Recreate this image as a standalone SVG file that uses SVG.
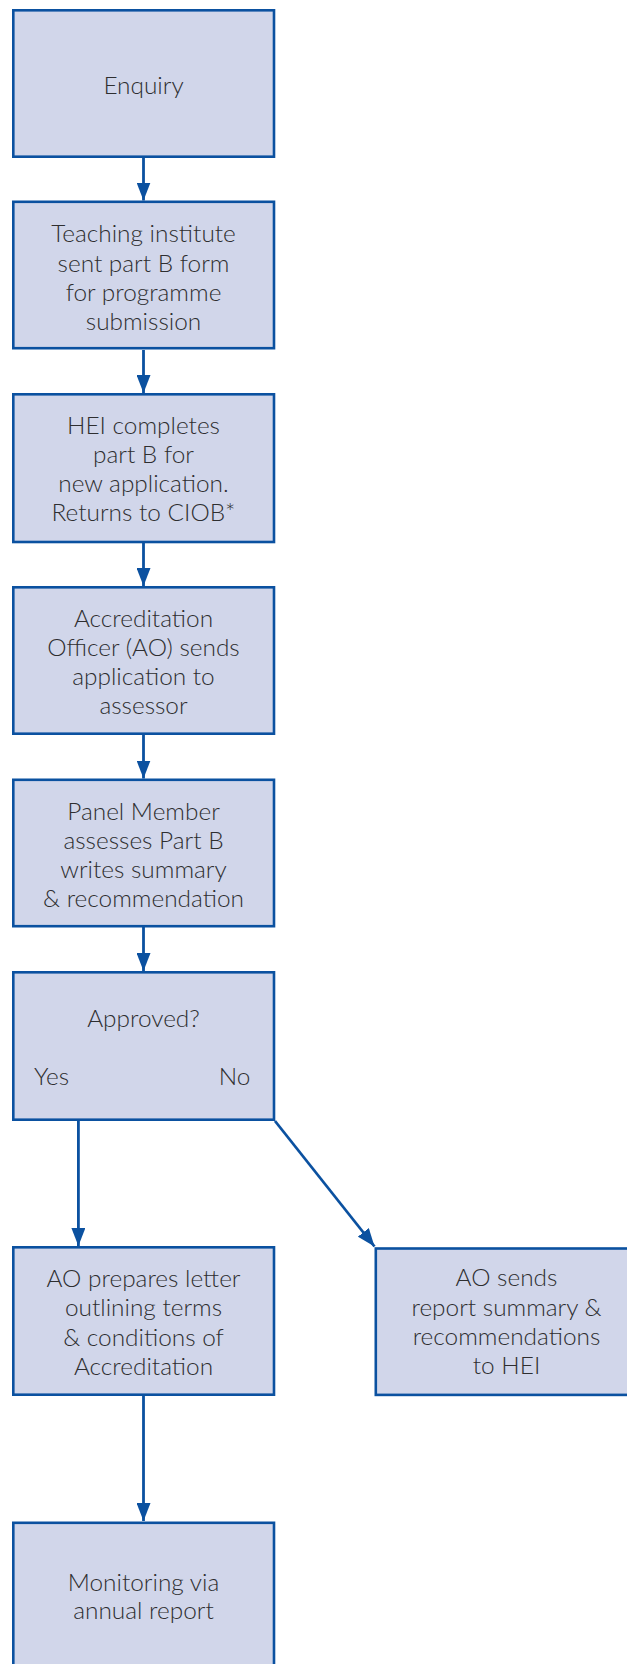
<svg xmlns="http://www.w3.org/2000/svg" width="627" height="1664" viewBox="0 0 627 1664">
<style>
.box{fill:#d1d6ea;stroke:#0b51a0;stroke-width:2.6}
.t{font-family:Lato,"Open Sans","Liberation Sans",sans-serif;font-weight:300;font-size:24.4px;fill:#2e2e30;text-anchor:middle}
.c{stroke:#0b51a0;stroke-width:2.8;fill:none;marker-end:url(#ah)}
</style>
<defs>
<marker id="ah" viewBox="0 0 18 14" refX="18" refY="7" markerWidth="18" markerHeight="14" markerUnits="userSpaceOnUse" orient="auto">
<path d="M0,0 L18,7 L0,14 z" fill="#0b51a0"/>
</marker>
</defs>
<rect width="627" height="1664" fill="#ffffff"/>
<g id="connectors">
<line class="c" x1="143.5" y1="158" x2="143.5" y2="200.5"/>
<line class="c" x1="143.5" y1="350" x2="143.5" y2="393"/>
<line class="c" x1="143.5" y1="543" x2="143.5" y2="586"/>
<line class="c" x1="143.5" y1="735" x2="143.5" y2="778.5"/>
<line class="c" x1="143.5" y1="927" x2="143.5" y2="971"/>
<line class="c" x1="78.4" y1="1121" x2="78.4" y2="1246"/>
<line class="c" x1="275" y1="1121" x2="374.5" y2="1246.5"/>
<line class="c" x1="143.5" y1="1396" x2="143.5" y2="1521"/>
</g>
<g id="n1">
<rect class="box" x="13.3" y="10.3" width="260.7" height="146.4"/>
<text class="t" x="143.5" y="93.5">Enquiry</text>
</g>
<g id="n2">
<rect class="box" x="13.3" y="201.8" width="260.7" height="146.4"/>
<text class="t" x="143.5" y="242.3">Teaching institute</text>
<text class="t" x="143.5" y="271.5">sent part B form</text>
<text class="t" x="143.5" y="300.5">for programme</text>
<text class="t" x="143.5" y="329.5">submission</text>
</g>
<g id="n3">
<rect class="box" x="13.3" y="394.3" width="260.7" height="147.7"/>
<text class="t" x="143.5" y="434">HEI completes</text>
<text class="t" x="143.5" y="463.3">part B for</text>
<text class="t" x="143.5" y="492.3">new application.</text>
<text class="t" x="143.5" y="521">Returns to CIOB*</text>
</g>
<g id="n4">
<rect class="box" x="13.3" y="587.3" width="260.7" height="146.4"/>
<text class="t" x="143.5" y="626.7">Accreditation</text>
<text class="t" x="143.5" y="655.5">Officer (AO) sends</text>
<text class="t" x="143.5" y="685">application to</text>
<text class="t" x="143.5" y="714.3">assessor</text>
</g>
<g id="n5">
<rect class="box" x="13.3" y="779.8" width="260.7" height="146.4"/>
<text class="t" x="143.5" y="819.5">Panel Member</text>
<text class="t" x="143.5" y="848.5">assesses Part B</text>
<text class="t" x="143.5" y="877.5">writes summary</text>
<text class="t" x="143.5" y="906.5">&amp; recommendation</text>
</g>
<g id="n6">
<rect class="box" x="13.3" y="972.3" width="260.7" height="147.4"/>
<text class="t" x="143.5" y="1026.5">Approved?</text>
<text class="t" x="51.5" y="1085">Yes</text>
<text class="t" x="234.5" y="1085">No</text>
</g>
<g id="n7">
<rect class="box" x="13.3" y="1247.3" width="260.7" height="147.4"/>
<text class="t" x="143.5" y="1286.7">AO prepares letter</text>
<text class="t" x="143.5" y="1315.7">outlining terms</text>
<text class="t" x="143.5" y="1345.5">&amp; conditions of</text>
<text class="t" x="143.5" y="1375">Accreditation</text>
</g>
<g id="n8">
<rect class="box" x="375.8" y="1248.5" width="260.7" height="146.4"/>
<text class="t" x="506.5" y="1286">AO sends</text>
<text class="t" x="506.5" y="1316">report summary &amp;</text>
<text class="t" x="506.5" y="1345">recommendations</text>
<text class="t" x="506.5" y="1374.3">to HEI</text>
</g>
<g id="n9">
<rect class="box" x="13.3" y="1522.8" width="260.7" height="146.4"/>
<text class="t" x="143.5" y="1590.7">Monitoring via</text>
<text class="t" x="143.5" y="1619.3">annual report</text>
</g>
</svg>
